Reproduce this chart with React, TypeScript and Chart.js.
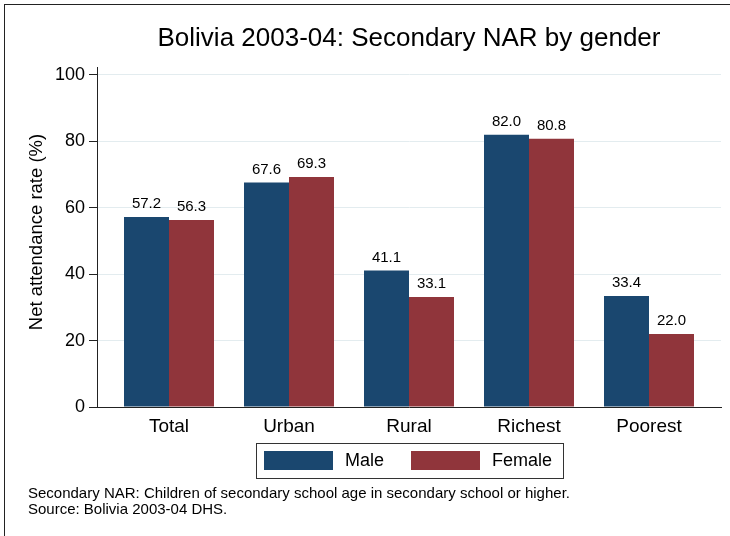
import React, { useEffect, useRef } from "react";
import { Chart, registerables } from "chart.js";

Chart.register(...registerables);

const titleText = "Bolivia 2003-04: Secondary NAR by gender";
const yAxisTitle = "Net attendance rate (%)";
const categories = ["Total", "Urban", "Rural", "Richest", "Poorest"];
const seriesNames = ["Male", "Female"];
const maleValues = [57.2, 67.6, 41.1, 82.0, 33.4];
const femaleValues = [56.3, 69.3, 33.1, 80.8, 22.0];
const yTicks = [0, 20, 40, 60, 80, 100];
const notes = [
  "Secondary NAR: Children of secondary school age in secondary school or higher.",
  "Source: Bolivia 2003-04 DHS.",
];

const MALE = "#1a476f";
const FEMALE = "#90353b";
const FONT = "'Liberation Sans', Arial, Helvetica, sans-serif";

const decorPlugin = {
  id: "decor",
  beforeDraw(chart: any) {
    const ctx = chart.ctx;
    ctx.save();
    ctx.fillStyle = "#ffffff";
    ctx.fillRect(0, 0, chart.width, chart.height);
    ctx.strokeStyle = "#222";
    ctx.lineWidth = 1;
    ctx.strokeRect(4.5, 4.5, chart.width + 20, chart.height + 20);
    ctx.restore();
  },
  afterDraw(chart: any) {
    const ctx = chart.ctx;
    const area = chart.chartArea;
    ctx.save();
    // title
    ctx.fillStyle = "#000";
    ctx.font = `26px ${FONT}`;
    ctx.textAlign = "center";
    ctx.textBaseline = "middle";
    ctx.fillText(titleText, (area.left + area.right) / 2, 39);
    // y axis title
    ctx.save();
    ctx.translate(37, (area.top + area.bottom) / 2 - 5);
    ctx.rotate(-Math.PI / 2);
    ctx.font = `18.5px ${FONT}`;
    ctx.fillText(yAxisTitle, 0, 0);
    ctx.restore();
    // value labels
    ctx.font = `15px ${FONT}`;
    ctx.textAlign = "center";
    ctx.textBaseline = "alphabetic";
    chart.data.datasets.forEach((ds: any, di: number) => {
      const meta = chart.getDatasetMeta(di);
      meta.data.forEach((bar: any, i: number) => {
        const v = ds.data[i].y;
        ctx.fillText(v.toFixed(1), bar.x, bar.y - 9);
      });
    });
    // legend
    const lx = 256, ly = 443, lw = 307, lh = 35;
    ctx.strokeStyle = "#333";
    ctx.lineWidth = 1;
    ctx.strokeRect(lx + 0.5, ly + 0.5, lw, lh);
    const items = [
      { name: seriesNames[0], color: MALE, sx: 264, tx: 345 },
      { name: seriesNames[1], color: FEMALE, sx: 411, tx: 492 },
    ];
    ctx.font = `18px ${FONT}`;
    ctx.textAlign = "left";
    ctx.textBaseline = "middle";
    items.forEach((it) => {
      ctx.fillStyle = it.color;
      ctx.fillRect(it.sx, 451, 69, 19);
      ctx.fillStyle = "#000";
      ctx.fillText(it.name, it.tx, 461);
    });
    // notes
    ctx.font = `15px ${FONT}`;
    ctx.fillText(notes[0], 28, 494);
    ctx.fillText(notes[1], 28, 510);
    ctx.restore();
  },
};

export default function App() {
  const ref = useRef<HTMLCanvasElement>(null);
  useEffect(() => {
    if (!ref.current) return;
    const chart = new Chart(ref.current, {
      type: "bar",
      data: {
        datasets: [
          {
            label: seriesNames[0],
            data: categories.map((_, i) => ({ x: i, y: maleValues[i] })),
            backgroundColor: MALE,
            borderWidth: 0,
            categoryPercentage: 0.75,
            barPercentage: 1,
          },
          {
            label: seriesNames[1],
            data: categories.map((_, i) => ({ x: i, y: femaleValues[i] })),
            backgroundColor: FEMALE,
            borderWidth: 0,
            categoryPercentage: 0.75,
            barPercentage: 1,
          },
        ],
      } as any,
      options: {
        responsive: false,
        animation: false,
        devicePixelRatio: 1,
        layout: { padding: { left: 0, top: 67, right: 9, bottom: 99 } },
        plugins: {
          legend: { display: false },
          title: { display: false },
          tooltip: { enabled: false },
        },
        scales: {
          x: {
            type: "linear",
            offset: false,
            min: -0.6,
            max: 4.6,
            afterBuildTicks: (s: any) => {
              s.ticks = categories.map((_, i) => ({ value: i }));
            },
            afterFit: (s: any) => {
              s.height = 30;
            },
            ticks: {
              callback: (v: any) => categories[v] ?? "",
              color: "#000",
              font: { family: FONT, size: 19 },
              padding: 8,
              autoSkip: false,
              maxRotation: 0,
            },
            grid: { display: true, offset: false, drawOnChartArea: false, drawTicks: false },
            border: { display: true, color: "#222", width: 1 },
          },
          y: {
            type: "linear",
            min: 0,
            max: 102.4,
            afterBuildTicks: (s: any) => {
              s.ticks = yTicks.map((v) => ({ value: v }));
            },
            afterFit: (s: any) => {
              s.width = 97;
            },
            ticks: {
              color: "#000",
              font: { family: FONT, size: 18 },
              padding: 4,
            },
            grid: {
              color: "#e3ecef",
              tickColor: "#222",
              tickLength: 8,
              drawTicks: true,
            },
            border: { display: true, color: "#222", width: 1 },
          },
        },
      } as any,
      plugins: [decorPlugin],
    });
    return () => chart.destroy();
  }, []);
  return (
    <div
      style={{
        position: "fixed",
        left: 0,
        top: 0,
        width: 730,
        height: 536,
        background: "#fff",
      }}
    >
      <canvas ref={ref} width={730} height={536} style={{ display: "block", width: 730, height: 536 }} />
    </div>
  );
}
